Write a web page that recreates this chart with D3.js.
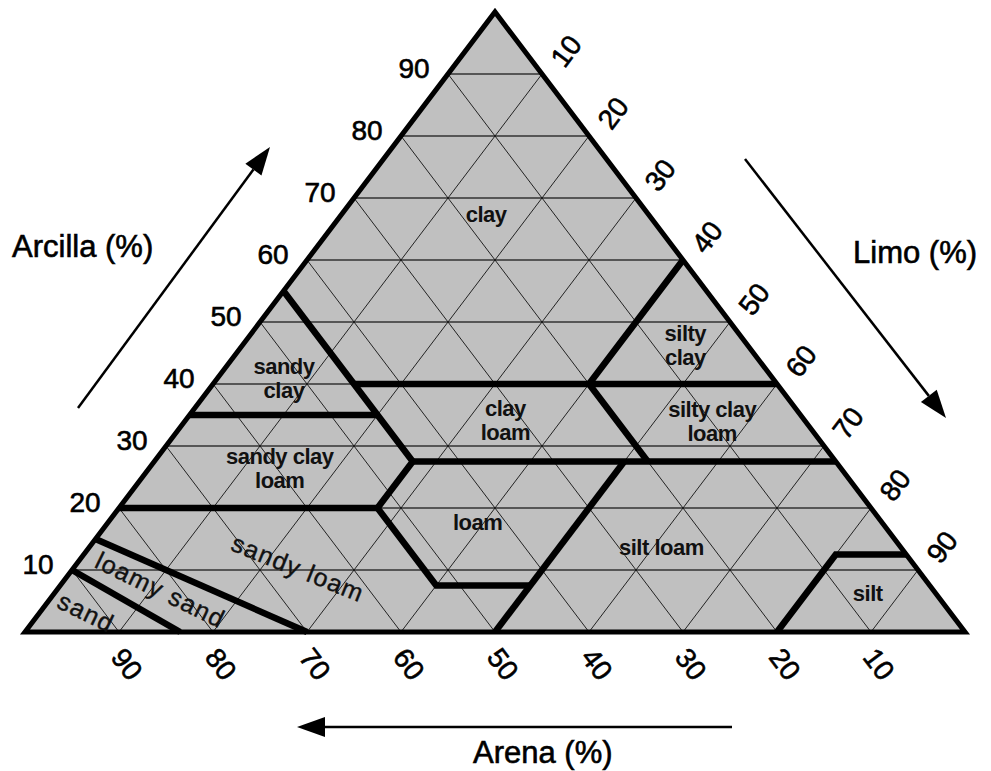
<!DOCTYPE html>
<html>
<head>
<meta charset="utf-8">
<script src="https://cdn.jsdelivr.net/npm/d3@7"></script>
<style>
  body { margin: 0; background: #fff; }
  text { font-family: Arial, "Liberation Sans", sans-serif; }
</style>
</head>
<body>
<div id="chart"></div>
<script>
// ternary data: every point is [sand, silt, clay] in %
var ticks = [10, 20, 30, 40, 50, 60, 70, 80, 90];
var tickLabels = ["10", "20", "30", "40", "50", "60", "70", "80", "90"];

// thick class boundaries
var boundaries = [
  [[45, 0, 55], [45, 15, 40], [45, 20, 35], [45, 27.5, 27.5], [52.5, 27.5, 20], [52.5, 40, 7.5], [42.5, 50, 7.5]],
  [[45, 15, 40], [0, 60, 40]],
  [[0, 40, 60], [20, 40, 40], [20, 52.5, 27.5]],
  [[45, 27.5, 27.5], [0, 72.5, 27.5]],
  [[65, 0, 35], [45, 20, 35]],
  [[80, 0, 20], [52.5, 27.5, 20]],
  [[85, 0, 15], [70, 30, 0]],
  [[90, 0, 10], [83.5, 16.5, 0]],
  [[50, 50, 0], [22.5, 50, 27.5]],
  [[20, 80, 0], [7.5, 80, 12.5], [0, 87.5, 12.5]]
];

// class names, the ternary point where each sits, and text angle
var classNames = [["clay"], ["sandy", "clay"], ["sandy clay", "loam"], ["clay", "loam"], ["loam"],
  ["silt loam"], ["silty", "clay"], ["silty clay", "loam"], ["silt"], ["sandy loam"], ["loamy sand"], ["sand"]];
var classSilt = [15.4, 7.1, 13.9, 34, 39.3, 60.9, 47.1, 56.1, 86.5, 23.9, 11, 4.9];
var classClay = [67.3, 40.9, 26.4, 34.2, 17.7, 13.6, 46.3, 34, 6.3, 10.3, 6.8, 3.2];
var classAngle = [0, 0, 0, 0, 0, 0, 0, 0, 0, 22, 26, 26];

var w = 991, h = 771;
var svg = d3.select("#chart").append("svg")
  .attr("width", w).attr("height", h);

// x follows silt + clay/2, y follows clay
var xScale = d3.scaleLinear().domain([0, 100]).range([25, 965]);
var yScale = d3.scaleLinear().domain([0, 100]).range([632, 12]);

function pt(d) { // d = [sand, silt, clay]
  return [xScale(d[1] + d[2] / 2), yScale(d[2])];
}
var line = d3.line().x(function(d) { return pt(d)[0]; }).y(function(d) { return pt(d)[1]; });

// background triangle
var corners = [[100, 0, 0], [0, 100, 0], [0, 0, 100]];
svg.append("path")
  .attr("d", line(corners) + "Z")
  .attr("fill", "#c0c0c0");

// grid: constant clay (horizontal)
svg.selectAll(".gclay").data(ticks).enter().append("path")
  .attr("class", "gclay")
  .attr("d", function(v) { return line([[100 - v, 0, v], [0, 100 - v, v]]); })
  .attr("stroke", "#333").attr("stroke-width", 1.4).attr("fill", "none");

// grid: constant sand
svg.selectAll(".gsand").data(ticks).enter().append("path")
  .attr("class", "gsand")
  .attr("d", function(v) { return line([[v, 100 - v, 0], [v, 0, 100 - v]]); })
  .attr("stroke", "#111").attr("stroke-width", 0.9).attr("fill", "none");

// grid: constant silt
svg.selectAll(".gsilt").data(ticks).enter().append("path")
  .attr("class", "gsilt")
  .attr("d", function(v) { return line([[100 - v, v, 0], [0, v, 100 - v]]); })
  .attr("stroke", "#111").attr("stroke-width", 0.9).attr("fill", "none");

// class boundaries
svg.selectAll(".bound").data(boundaries).enter().append("path")
  .attr("class", "bound")
  .attr("d", line)
  .attr("stroke", "#000").attr("stroke-width", 6.5)
  .attr("stroke-linejoin", "miter").attr("fill", "none");

// outline
svg.append("path")
  .attr("d", line(corners) + "Z")
  .attr("fill", "none").attr("stroke", "#000")
  .attr("stroke-width", 5).attr("stroke-linejoin", "miter");

// class names
var cls = svg.selectAll(".cls").data(classNames).enter().append("text")
  .attr("class", "cls")
  .attr("text-anchor", "middle")
  .attr("font-size", function(d, i) { return classAngle[i] ? "25px" : "22px"; })
  .attr("font-weight", function(d, i) { return classAngle[i] ? "normal" : "bold"; })
  .attr("letter-spacing", function(d, i) { return classAngle[i] ? "1.3px" : "-0.5px"; })
  .attr("fill", "#111")
  .attr("stroke", function(d, i) { return classAngle[i] ? "#111" : "none"; })
  .attr("stroke-width", 0.4)
  .attr("transform", function(d, i) {
    var p = pt([100 - classSilt[i] - classClay[i], classSilt[i], classClay[i]]);
    return "translate(" + p[0] + "," + p[1] + ") rotate(" + classAngle[i] + ")";
  });
cls.selectAll("tspan").data(function(d) { return d; }).enter().append("tspan")
  .attr("x", 0)
  .attr("y", function(d, j, nodes) { return (j - (nodes.length - 1) / 2) * 24; })
  .attr("dy", "0.35em")
  .text(function(d) { return d; });

// clay tick labels (left edge)
svg.selectAll(".lclay").data(ticks).enter().append("text")
  .attr("class", "lclay")
  .attr("x", function(v, i) { return pt([100 - v, 0, v])[0] - 34; })
  .attr("y", function(v, i) { return pt([100 - v, 0, v])[1] - 6; })
  .attr("dy", "0.35em")
  .attr("text-anchor", "middle").attr("font-size", "28px")
  .attr("stroke", "#000").attr("stroke-width", 0.6)
  .text(function(v, i) { return tickLabels[i]; });

// silt tick labels (right edge)
svg.selectAll(".lsilt").data(ticks).enter().append("text")
  .attr("class", "lsilt")
  .attr("transform", function(v) {
    var p = pt([0, v, 100 - v]);
    return "translate(" + (p[0] + 24) + "," + (p[1] - 23) + ") rotate(-53)";
  })
  .attr("dy", "0.35em")
  .attr("text-anchor", "middle").attr("font-size", "28px")
  .attr("stroke", "#000").attr("stroke-width", 0.6)
  .text(function(v, i) { return tickLabels[i]; });

// sand tick labels (bottom)
svg.selectAll(".lsand").data(ticks).enter().append("text")
  .attr("class", "lsand")
  .attr("transform", function(v) {
    var p = pt([v, 100 - v, 0]);
    return "translate(" + (p[0] + 8) + "," + (p[1] + 32) + ") rotate(53)";
  })
  .attr("dy", "0.35em")
  .attr("text-anchor", "middle").attr("font-size", "28px")
  .attr("stroke", "#000").attr("stroke-width", 0.6)
  .text(function(v, i) { return tickLabels[i]; });

// direction arrows
function arrow(x1, y1, x2, y2) {
  var dx = x2 - x1, dy = y2 - y1, len = Math.sqrt(dx * dx + dy * dy);
  var ux = dx / len, uy = dy / len, hl = 28, hw = 10;
  var bx = x2 - ux * hl, by = y2 - uy * hl;
  svg.append("line")
    .attr("x1", x1).attr("y1", y1).attr("x2", bx).attr("y2", by)
    .attr("stroke", "#000").attr("stroke-width", 2.5);
  svg.append("path")
    .attr("d", "M" + x2 + "," + y2 + "L" + (bx - uy * hw) + "," + (by + ux * hw) +
      "L" + (bx + uy * hw) + "," + (by - ux * hw) + "Z")
    .attr("fill", "#000");
}
arrow(78, 408, 270, 147);
arrow(745, 159, 946, 418);
arrow(732, 727, 297, 727);

// axis titles
svg.append("text").attr("x", 12).attr("y", 257).attr("font-size", "31px")
  .attr("stroke", "#000").attr("stroke-width", 0.6).text("Arcilla (%)");
svg.append("text").attr("x", 853).attr("y", 263).attr("font-size", "31px")
  .attr("stroke", "#000").attr("stroke-width", 0.6).text("Limo (%)");
svg.append("text").attr("x", 473).attr("y", 763).attr("font-size", "31px")
  .attr("stroke", "#000").attr("stroke-width", 0.6).text("Arena (%)");
</script>
</body>
</html>
